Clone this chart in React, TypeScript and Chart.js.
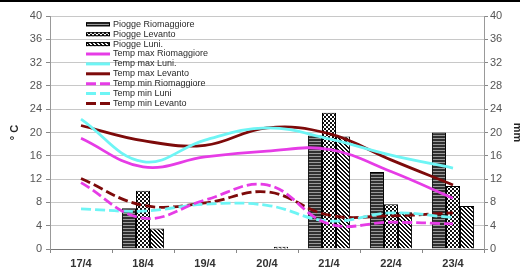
import React, { useEffect, useRef } from 'react';
import { Chart, registerables } from 'chart.js';

Chart.register(...registerables);

const categories = ['17/4', '18/4', '19/4', '20/4', '21/4', '22/4', '23/4'];

const rainRiomaggiore = [null, 7.0, null, null, 19.5, 13.2, 20.0];
const rainLevanto = [null, 10.0, null, null, 23.4, 7.7, 10.8];
const rainLuni = [null, 3.5, null, 0.4, 19.3, 6.3, 7.4];

const tmaxRiomaggiore = [19.0, 14.1, 15.8, 16.8, 17.1, 13.3, 8.7];
const tmaxLuni = [22.3, 15.0, 18.7, 20.8, 18.9, 16.1, 13.9];
const tmaxLevanto = [21.2, 18.6, 17.8, 20.8, 19.8, 15.3, 11.0];
const tminRiomaggiore = [11.4, 5.3, 8.4, 11.0, 4.3, 4.6, 4.3];
const tminLuni = [6.9, 6.5, 7.7, 7.5, 4.8, 6.2, 5.4];
const tminLevanto = [12.1, 7.5, 7.9, 9.8, 5.8, 5.7, 6.2];

const yTicksLeft = { min: 0, max: 40, step: 4 };
const yTicksRight = { min: 0, max: 40, step: 4 };

const FONT = "'Liberation Sans', Arial, Helvetica, sans-serif";

function makePattern(ctx: CanvasRenderingContext2D, kind: string) {
  const c = document.createElement('canvas');
  const g = c.getContext('2d')!;
  if (kind === 'h') {
    c.width = 4; c.height = 3;
    g.fillStyle = '#303030'; g.fillRect(0, 0, 4, 3);
    g.fillStyle = '#9a9a9a'; g.fillRect(0, 0, 4, 1);
  } else if (kind === 'c') {
    c.width = 4; c.height = 4;
    g.fillStyle = '#fff'; g.fillRect(0, 0, 4, 4);
    g.fillStyle = '#111'; g.fillRect(0, 0, 2, 2); g.fillRect(2, 2, 2, 2);
  } else {
    c.width = 4; c.height = 4;
    g.fillStyle = '#fff'; g.fillRect(0, 0, 4, 4);
    g.fillStyle = '#111';
    for (let i = 0; i < 4; i++) { g.fillRect(i, i, 1, 1); g.fillRect((i + 1) % 4, i, 1, 1); }
  }
  return ctx.createPattern(c, 'repeat');
}

const legendPlugin = {
  id: 'customLegend',
  afterDraw(chart: any) {
    const ctx = chart.ctx as CanvasRenderingContext2D;
    const area = chart.chartArea;
    ctx.save();
    chart.data.datasets.forEach((ds: any, i: number) => {
      const y = area.top + 8.3 + i * 9.9;
      const x0 = area.left + 36;
      const w = 24;
      if (ds.type === 'bar') {
        ctx.fillStyle = ds.backgroundColor;
        ctx.fillRect(x0, y - 2, w, 4);
        ctx.strokeStyle = '#000';
        ctx.lineWidth = 1;
        ctx.strokeRect(x0 + 0.5, y - 1.5, w - 1, 3);
      } else {
        ctx.strokeStyle = ds.borderColor;
        ctx.lineWidth = 3;
        ctx.setLineDash(ds.borderDash || []);
        ctx.beginPath();
        ctx.moveTo(x0, y);
        ctx.lineTo(x0 + w, y);
        ctx.stroke();
        ctx.setLineDash([]);
      }
      ctx.fillStyle = '#2a2a2a';
      ctx.font = `9px ${FONT}`;
      ctx.textBaseline = 'middle';
      ctx.textAlign = 'left';
      ctx.fillText(ds.label, x0 + w + 3, y);
    });
    ctx.restore();
  },
};

export default function App() {
  const ref = useRef<HTMLCanvasElement>(null);

  useEffect(() => {
    const canvas = ref.current!;
    const ctx = canvas.getContext('2d')!;
    const pH = makePattern(ctx, 'h');
    const pC = makePattern(ctx, 'c');
    const pD = makePattern(ctx, 'd');

    const barBase = {
      type: 'bar' as const,
      yAxisID: 'y1',
      borderColor: '#000',
      borderWidth: 1,
      categoryPercentage: 0.68,
      barPercentage: 1.0,
      order: 2,
    };
    const lineBase = {
      type: 'line' as const,
      yAxisID: 'y',
      borderWidth: 2.8,
      pointRadius: 0,
      tension: 0.4,
      fill: false,
      order: 1,
    };
    const dash = [10, 4];

    const chart = new Chart(ctx, {
      data: {
        labels: categories,
        datasets: [
          { ...barBase, label: 'Piogge Riomaggiore', data: rainRiomaggiore, backgroundColor: pH },
          { ...barBase, label: 'Piogge Levanto', data: rainLevanto, backgroundColor: pC },
          { ...barBase, label: 'Piogge Luni.', data: rainLuni, backgroundColor: pD },
          { ...lineBase, label: 'Temp max Riomaggiore', data: tmaxRiomaggiore, borderColor: '#e63ce6', backgroundColor: '#e63ce6' },
          { ...lineBase, label: 'Temp max Luni.', data: tmaxLuni, borderColor: '#6ef5f5', backgroundColor: '#6ef5f5' },
          { ...lineBase, label: 'Temp max Levanto', data: tmaxLevanto, borderColor: '#7d0a0a', backgroundColor: '#7d0a0a' },
          { ...lineBase, label: 'Temp min Riomaggiore', data: tminRiomaggiore, borderColor: '#e63ce6', backgroundColor: '#e63ce6', borderDash: dash },
          { ...lineBase, label: 'Temp min Luni', data: tminLuni, borderColor: '#6ef5f5', backgroundColor: '#6ef5f5', borderDash: dash },
          { ...lineBase, label: 'Temp min Levanto', data: tminLevanto, borderColor: '#7d0a0a', backgroundColor: '#7d0a0a', borderDash: dash },
        ] as any,
      },
      options: {
        animation: false,
        responsive: false,
        maintainAspectRatio: false,
        layout: { padding: { top: 16, left: 0, right: 0, bottom: 0 } },
        plugins: { legend: { display: false }, tooltip: { enabled: false } },
        scales: {
          x: {
            type: 'category',
            offset: true,
            grid: { offset: true, drawOnChartArea: false, drawTicks: true, tickLength: 4, color: '#888' },
            border: { color: '#777', width: 1 },
            ticks: { font: { family: FONT, size: 11, weight: 'bold' }, color: '#333', padding: 4, maxRotation: 0 },
            afterFit: (s: any) => { s.height = 20; },
          },
          y: {
            position: 'left',
            min: yTicksLeft.min,
            max: yTicksLeft.max,
            ticks: { stepSize: yTicksLeft.step, font: { family: FONT, size: 11 }, color: '#555', padding: 4 },
            grid: { color: '#c8c8c8', tickLength: 4, tickColor: '#888' },
            border: { color: '#999' },
            title: { display: true, text: '° C', font: { family: FONT, size: 11, weight: 'bold' }, color: '#222', padding: { top: 8, bottom: 0 } },
            afterFit: (s: any) => { s.width = 50; },
          },
          y1: {
            position: 'right',
            min: yTicksRight.min,
            max: yTicksRight.max,
            ticks: { stepSize: yTicksRight.step, font: { family: FONT, size: 11 }, color: '#555', padding: 2 },
            grid: { drawOnChartArea: false, tickLength: 4, tickColor: '#888' },
            border: { color: '#999' },
            title: { display: true, text: 'mm', font: { family: FONT, size: 11, weight: 'bold' }, color: '#222', padding: { top: 8, bottom: 0 } },
            afterFit: (s: any) => { s.width = 48; },
          },
        },
      } as any,
      plugins: [legendPlugin],
    });
    return () => chart.destroy();
  }, []);

  return (
    <div style={{ position: 'fixed', left: 0, top: 0, width: 520, height: 269, overflow: 'hidden', background: '#fff' }}>
      <canvas ref={ref} width={532} height={269} style={{ width: 532, height: 269, display: 'block' }} />
      <div style={{ position: 'absolute', left: 0, top: 0, width: 520, height: 2, background: '#000' }} />
    </div>
  );
}
